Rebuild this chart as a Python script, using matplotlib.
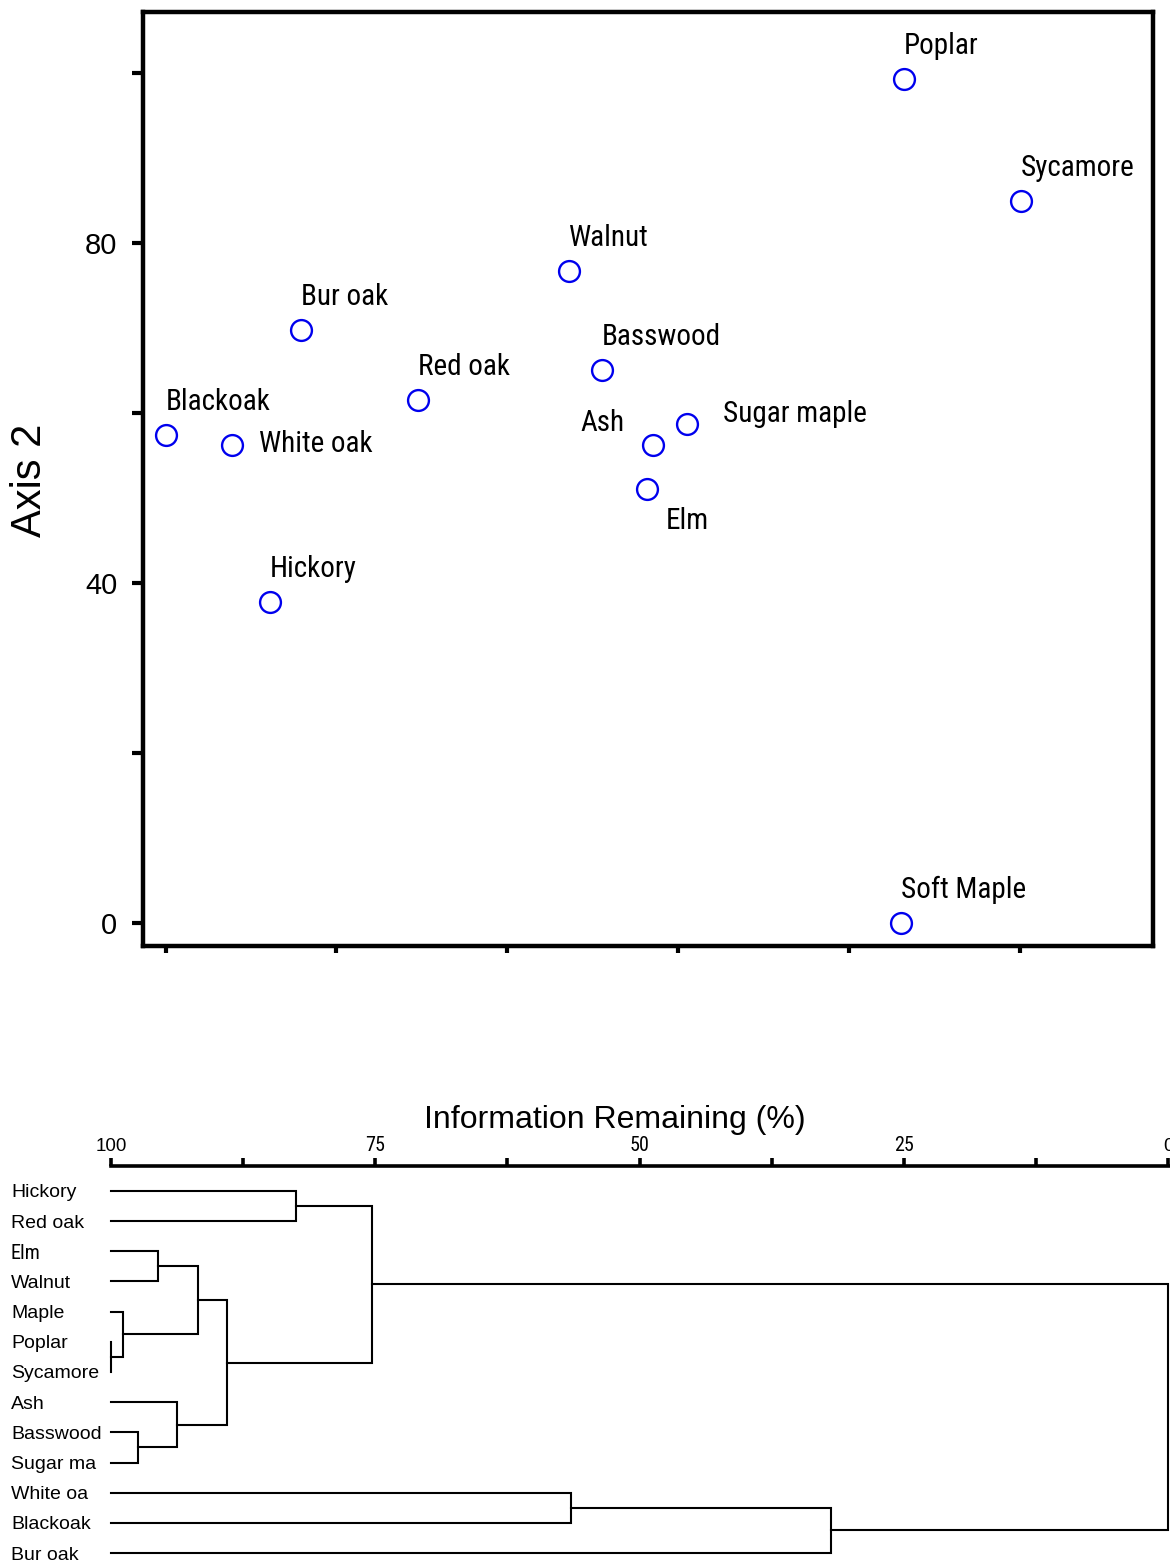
import matplotlib
matplotlib.use("Agg")
import matplotlib.pyplot as plt
import matplotlib.transforms as mtrans

W, H = 1170, 1564
NARROW = ['Roboto Condensed', 'Archivo Narrow', 'Liberation Sans', 'DejaVu Sans']
REG = ['Liberation Sans', 'DejaVu Sans']

# ordination scores (axis 1, axis 2)
species = ['Poplar', 'Sycamore', 'Walnut', 'Bur oak', 'Basswood', 'Red oak',
           'Blackoak', 'White oak', 'Hickory', 'Ash', 'Sugar maple', 'Elm',
           'Soft Maple']
axis1 = [86.4, 100.1, 47.2, 15.8, 51.1, 29.6, 0.1, 7.8, 12.2, 57.1, 61.0, 56.3, 86.1]
axis2 = [99.3, 84.9, 76.7, 69.8, 65.1, 61.5, 57.4, 56.2, 37.8, 56.2, 58.7, 51.1, 0.0]
yticks = [0, 20, 40, 60, 80, 100]
ytick_labels = ['0', '', '40', '', '80', '']
xticks = [0, 20, 40, 60, 80, 100]

# cluster tree: leaf order and merges (child a, child b, information remaining %)
leaves = ['Hickory', 'Red oak', 'Elm', 'Walnut', 'Maple', 'Poplar', 'Sycamore',
          'Ash', 'Basswood', 'Sugar ma', 'White oa', 'Blackoak', 'Bur oak']
merges = [
    ('Poplar', 'Sycamore', 100.0),      # 0
    ('Maple', 0, 98.9),                 # 1
    ('Basswood', 'Sugar ma', 97.4),     # 2
    ('Elm', 'Walnut', 95.6),            # 3
    ('Ash', 2, 93.8),                   # 4
    (3, 1, 91.8),                       # 5
    (5, 4, 89.0),                       # 6
    ('Hickory', 'Red oak', 82.5),       # 7
    (7, 6, 75.3),                       # 8
    ('White oa', 'Blackoak', 56.5),     # 9
    (9, 'Bur oak', 31.9),               # 10
    (8, 10, 0.0),                       # 11
]
dtick_pos = [100, 87.5, 75, 62.5, 50, 37.5, 25, 12.5, 0]
dtick_labels = ['100', '', '75', '', '50', '', '25', '', '0']

fig = plt.figure(figsize=(W / 100, H / 100), dpi=100)

# ---- scatter ----
ax = fig.add_axes([142.5 / W, 1 - 946 / H, (1153 - 142.5) / W, (946 - 12) / H])
ax.plot(axis1, axis2, 'o', ms=15, mfc='none', mec='#0000ee', mew=1.7, clip_on=False)

offsets = {'Poplar': (0, 33), 'Sycamore': (0, 33), 'Walnut': (0, 33),
           'Bur oak': (0, 33), 'Basswood': (0, 33), 'Red oak': (0, 33),
           'Blackoak': (-1, 33), 'White oak': (27, 1), 'Hickory': (0, 33),
           'Ash': (-73, 22), 'Sugar maple': (36, 10), 'Elm': (19, -32),
           'Soft Maple': (0, 33)}
for name, x, y in zip(species, axis1, axis2):
    ax.annotate(name, (x, y), xytext=offsets[name], textcoords='offset pixels',
                ha='left', va='center', fontsize=21, family=NARROW)

ax.set_xlim((143 - 166) / 8.54, (1153 - 166) / 8.54)
ax.set_ylim(-(946 - 923) / 8.5, (923 - 12) / 8.5)
ax.tick_params(axis='y', direction='out', length=8, width=3, pad=10)
ax.tick_params(axis='x', direction='out', length=5, width=3)
ax.set_yticks(yticks)
ax.set_yticklabels(ytick_labels, fontsize=21, family=REG)
ax.set_xticks(xticks)
ax.set_xticklabels([])
for s in ax.spines.values():
    s.set_linewidth(3.2)
fig.text(30 / W, 1 - 480 / H, 'Axis 2', rotation=90, ha='center', va='center',
         fontsize=30, family=REG)

# ---- dendrogram ----
top = 1166
row0, step = 1191, 30.17
ax2 = fig.add_axes([111 / W, 0, (1169 - 111) / W, 1 - top / H])
nodes = {name: (100.0, i) for i, name in enumerate(leaves)}
for k, (a, b, h) in enumerate(merges):
    ha_, ya = nodes[a]
    hb, yb = nodes[b]
    ax2.plot([ha_, h, h, hb], [ya, ya, yb, yb], color='black', lw=1.5,
             solid_joinstyle='miter', clip_on=False)
    nodes[k] = (h, (ya + yb) / 2)

ax2.set_xlim(100, 100 - (1169 - 111) / 10.57)
ax2.set_ylim(12 + (H - 1553) / step, -(row0 - top) / step)
ax2.set_yticks([])
for s in ['bottom', 'left', 'right']:
    ax2.spines[s].set_visible(False)
ax2.spines['top'].set_linewidth(2.6)
ax2.xaxis.tick_top()
ax2.tick_params(axis='x', direction='out', length=6, width=2.6, pad=2)
ax2.set_xticks(dtick_pos)
ax2.set_xticklabels(dtick_labels, fontsize=13.5, family=REG)
for lab in ax2.get_xticklabels():
    if lab.get_text() not in ('100', '0'):
        lab.set_family(NARROW)
        lab.set_fontsize(14.5)

tr = mtrans.blended_transform_factory(fig.transFigure, ax2.transData)
for i, name in enumerate(leaves):
    ax2.text(11 / W, i, name, transform=tr, ha='left', va='center_baseline',
             fontsize=14 if name != 'Elm' else 14.5,
             family=NARROW if name == 'Elm' else REG)

fig.text(615 / W, 1 - 1120 / H, 'Information Remaining (%)', ha='center',
         va='center', fontsize=23, family=REG)

fig.savefig('out.png', dpi=100)
